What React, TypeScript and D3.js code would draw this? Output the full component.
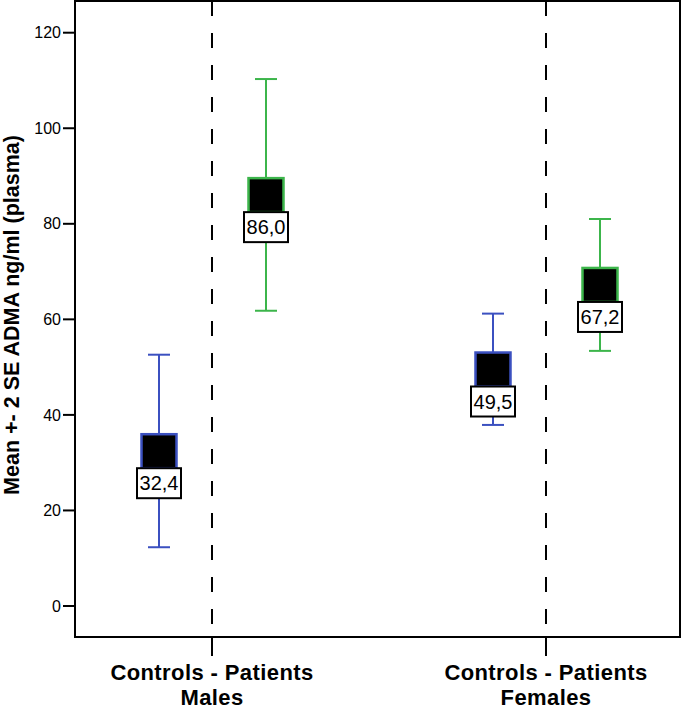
import * as d3 from "d3";

// values (mean +- 2 SE)
const sexes = ["Males", "Females"];
const groups = ["Controls", "Patients"];
const barSex = ["Males", "Males", "Females", "Females"];
const barGroup = ["Controls", "Patients", "Controls", "Patients"];
const meanValues = [32.4, 86.0, 49.5, 67.2];
const lowerValues = [12.3, 61.8, 37.9, 53.4];
const upperValues = [52.6, 110.3, 61.2, 81.0];
const meanLabels = ["32,4", "86,0", "49,5", "67,2"];
const yTicks = [0, 20, 40, 60, 80, 100, 120];

const groupColors: Record<string, string> = { Controls: "#3b50c0", Patients: "#3cb54b" };
const font = "Arial, 'Liberation Sans', sans-serif";

export default function App() {
  const width = 685;
  const height = 710;
  const plot = { left: 75, right: 680, top: 1, bottom: 637 };

  const y = d3.scaleLinear().domain([0, 120]).range([606, 32.7]);
  const x = d3.scalePoint<string>().domain(sexes).range([212, 546]);
  const xInner = d3.scalePoint<string>().domain(groups).range([-53, 54]);

  const markW = 35;
  const markH = 34;
  const labelW = 44;
  const labelH = 30;
  const capW = 22;

  return (
    <svg
      width={width}
      height={height}
      style={{ position: "absolute", left: 0, top: 0, background: "#fff" }}
      fontFamily={font}
    >
      {/* dashed separators at each category */}
      {sexes.map((s) => (
        <line
          key={`dash-${s}`}
          x1={x(s)}
          x2={x(s)}
          y1={plot.top}
          y2={plot.bottom}
          stroke="#000"
          strokeWidth={2}
          strokeDasharray="15,17"
        />
      ))}

      {/* frame */}
      <rect
        x={plot.left}
        y={plot.top}
        width={plot.right - plot.left}
        height={plot.bottom - plot.top}
        fill="none"
        stroke="#000"
        strokeWidth={2}
      />

      {/* y axis */}
      {yTicks.map((t) => (
        <g key={`yt-${t}`}>
          <line x1={plot.left - 12} x2={plot.left} y1={y(t)} y2={y(t)} stroke="#000" strokeWidth={2} />
          <text x={plot.left - 14} y={y(t)} dy="0.35em" textAnchor="end" fontSize={16} fill="#000">
            {t}
          </text>
        </g>
      ))}
      <text
        transform={`translate(19,315) rotate(-90)`}
        textAnchor="middle"
        fontSize={21.5}
        fontWeight="bold"
        fill="#000"
      >
        Mean +- 2 SE ADMA ng/ml (plasma)
      </text>

      {/* x axis */}
      {sexes.map((s) => (
        <g key={`xt-${s}`}>
          <line x1={x(s)} x2={x(s)} y1={plot.bottom} y2={plot.bottom + 19} stroke="#000" strokeWidth={2} />
          <text x={x(s)} y={680} textAnchor="middle" fontSize={22} fontWeight="bold" letterSpacing={0.4} fill="#000">
            {groups.join(" - ")}
          </text>
          <text x={x(s)} y={705} textAnchor="middle" fontSize={22} fontWeight="bold" letterSpacing={0.4} fill="#000">
            {s}
          </text>
        </g>
      ))}

      {/* error bars with mean markers */}
      {meanValues.map((m, i) => {
        const cx = (x(barSex[i]) as number) + (xInner(barGroup[i]) as number);
        const color = groupColors[barGroup[i]];
        const cy = y(m);
        return (
          <g key={`bar-${i}`}>
            <line x1={cx} x2={cx} y1={y(upperValues[i])} y2={y(lowerValues[i])} stroke={color} strokeWidth={2} />
            <line x1={cx - capW / 2} x2={cx + capW / 2} y1={y(upperValues[i])} y2={y(upperValues[i])} stroke={color} strokeWidth={2} />
            <line x1={cx - capW / 2} x2={cx + capW / 2} y1={y(lowerValues[i])} y2={y(lowerValues[i])} stroke={color} strokeWidth={2} />
            <rect
              x={cx - markW / 2}
              y={cy - markH / 2}
              width={markW}
              height={markH}
              fill="#000"
              stroke={color}
              strokeWidth={2.5}
            />
            <rect
              x={cx - labelW / 2}
              y={cy + markH / 2}
              width={labelW}
              height={labelH}
              fill="#fff"
              stroke="#000"
              strokeWidth={2}
            />
            <text x={cx} y={cy + markH / 2 + labelH / 2} dy="0.36em" textAnchor="middle" fontSize={20} fill="#000">
              {meanLabels[i]}
            </text>
          </g>
        );
      })}
    </svg>
  );
}
